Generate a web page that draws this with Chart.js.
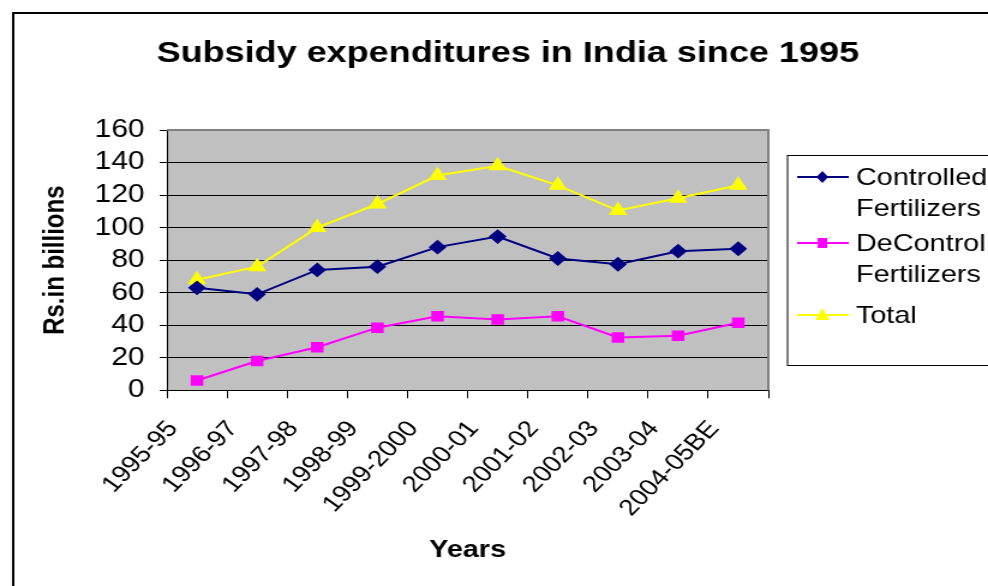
<!DOCTYPE html>
<html>
<head>
<meta charset="utf-8">
<script src="https://cdn.jsdelivr.net/npm/chart.js@4/dist/chart.umd.min.js"></script>
<style>
  html, body { margin: 0; padding: 0; background: #fff; overflow: hidden; }
  /* the original picture is stretched sideways, so the whole chart is too */
  #wrap { width: 823px; height: 586px; transform: scale(1.2005, 1); transform-origin: 0 0; }
</style>
</head>
<body>
<div id="wrap"><canvas id="myChart" width="823" height="586"></canvas></div>
<script>
'use strict';
let years = ['1995-95', '1996-97', '1997-98', '1998-99', '1999-2000',
    '2000-01', '2001-02', '2002-03', '2003-04', '2004-05BE'];
let controlled = [63, 59, 74, 76, 88, 94.5, 81, 77.5, 85.5, 87];
let decontrol = [6, 18, 26.5, 38.5, 45.5, 43.5, 45.5, 32.5, 33.5, 41.5];
let total = [68, 76, 100, 114.5, 132, 138, 126, 110.5, 118, 126];
let legendNames = [['Controlled', 'Fertilizers'], ['DeControl', 'Fertilizers'], ['Total']];
let yTicks = [0, 20, 40, 60, 80, 100, 120, 140, 160];
let chartTitle = 'Subsidy expenditures in India since 1995';

const font = "'Liberation Sans', Arial, sans-serif";

// white page, grey plot area, frame, title and the boxed legend
let excelLook = {
    id: 'excelLook',
    beforeDraw(chart) {
        let ctx = chart.ctx;
        let a = chart.chartArea;
        ctx.save();
        ctx.fillStyle = '#fff';
        ctx.fillRect(0, 0, chart.width, chart.height);
        ctx.fillStyle = '#C0C0C0';
        ctx.fillRect(a.left, a.top, a.right - a.left, a.bottom - a.top);
        ctx.restore();
    },
    afterDraw(chart) {
        let ctx = chart.ctx;
        let a = chart.chartArea;
        ctx.save();
        ctx.strokeStyle = '#808080';
        ctx.lineWidth = 2;
        ctx.beginPath();
        ctx.moveTo(a.left, a.top);
        ctx.lineTo(a.right, a.top);
        ctx.lineTo(a.right, a.bottom);
        ctx.stroke();
        ctx.strokeStyle = '#000';
        ctx.lineWidth = 2;
        ctx.strokeRect(11, 13, 900, 600);

        ctx.fillStyle = '#000';
        ctx.textAlign = 'center';
        ctx.textBaseline = 'middle';
        ctx.font = 'bold 30px ' + font;
        ctx.fillText(chartTitle, 423, 54);

        // legend
        ctx.textAlign = 'left';
        ctx.lineWidth = 1;
        ctx.strokeRect(656, 155.5, 260, 210);
        let rowY = [177, 243, 315];
        chart.data.datasets.forEach(function (ds, i) {
            let y = rowY[i];
            ctx.strokeStyle = ds.borderColor;
            ctx.lineWidth = 2;
            ctx.beginPath();
            ctx.moveTo(664, y);
            ctx.lineTo(707, y);
            ctx.stroke();
            ctx.fillStyle = ds.backgroundColor;
            ctx.beginPath();
            if (ds.pointStyle === 'rectRot') {
                ctx.moveTo(685, y - 6); ctx.lineTo(690, y); ctx.lineTo(685, y + 6); ctx.lineTo(680, y);
            } else if (ds.pointStyle === 'rect') {
                ctx.rect(681, y - 5, 8, 10);
            } else {
                ctx.moveTo(685, y - 7); ctx.lineTo(691, y + 5); ctx.lineTo(679, y + 5);
            }
            ctx.closePath();
            ctx.fill();
            ctx.fillStyle = '#000';
            ctx.font = '24px ' + font;
            legendNames[i].forEach(function (line, j) {
                ctx.fillText(line, 713, y + 1 + j * 31);
            });
        });
        ctx.restore();
    }
};

let ctx = document.getElementById('myChart').getContext('2d');
let myChart = new Chart(ctx, {
    type: 'line',
    data: {
        labels: years,
        datasets: [{
            label: 'Controlled Fertilizers',
            data: controlled,
            borderColor: '#000080',
            backgroundColor: '#000080',
            pointStyle: 'rectRot',
            pointRadius: 6,
            borderWidth: 2
        }, {
            label: 'DeControl Fertilizers',
            data: decontrol,
            borderColor: '#FF00FF',
            backgroundColor: '#FF00FF',
            pointStyle: 'rect',
            pointRadius: 6,
            borderWidth: 2
        }, {
            label: 'Total',
            data: total,
            borderColor: '#FFFF00',
            backgroundColor: '#FFFF00',
            pointStyle: 'triangle',
            pointRadius: 7,
            borderWidth: 2
        }]
    },
    options: {
        responsive: false,
        animation: false,
        devicePixelRatio: 1,
        layout: { padding: { left: 28, right: 183, top: 130, bottom: 17 } },
        elements: { line: { tension: 0 }, point: { borderWidth: 0 } },
        plugins: {
            legend: { display: false },
            tooltip: { enabled: false },
            title: { display: false }
        },
        scales: {
            x: {
                offset: true,
                grid: { offset: true, drawOnChartArea: false, color: '#000', tickLength: 8 },
                border: { color: '#000', width: 1 },
                ticks: { color: '#000', maxRotation: 50, minRotation: 50, padding: 17.5, labelOffset: -20,
                    autoSkip: false, font: { family: font, size: 23 } },
                title: { display: true, text: 'Years', color: '#000', padding: { top: -3, bottom: 4 },
                    font: { family: font, size: 24, weight: 'bold' } }
            },
            y: {
                min: 0,
                max: 160,
                afterBuildTicks(scale) { scale.ticks = yTicks.map(v => ({ value: v })); },
                grid: { color: '#000', tickLength: 6 },
                border: { color: '#000', width: 1 },
                ticks: { color: '#000', padding: 12.5, autoSkip: false, font: { family: font, size: 25 } },
                title: { display: true, text: 'Rs.in billions', color: '#000', padding: { top: 4, bottom: 5.5 },
                    font: { family: font, size: 24, weight: 'bold' } }
            }
        }
    },
    plugins: [excelLook]
});
</script>
</body>
</html>
